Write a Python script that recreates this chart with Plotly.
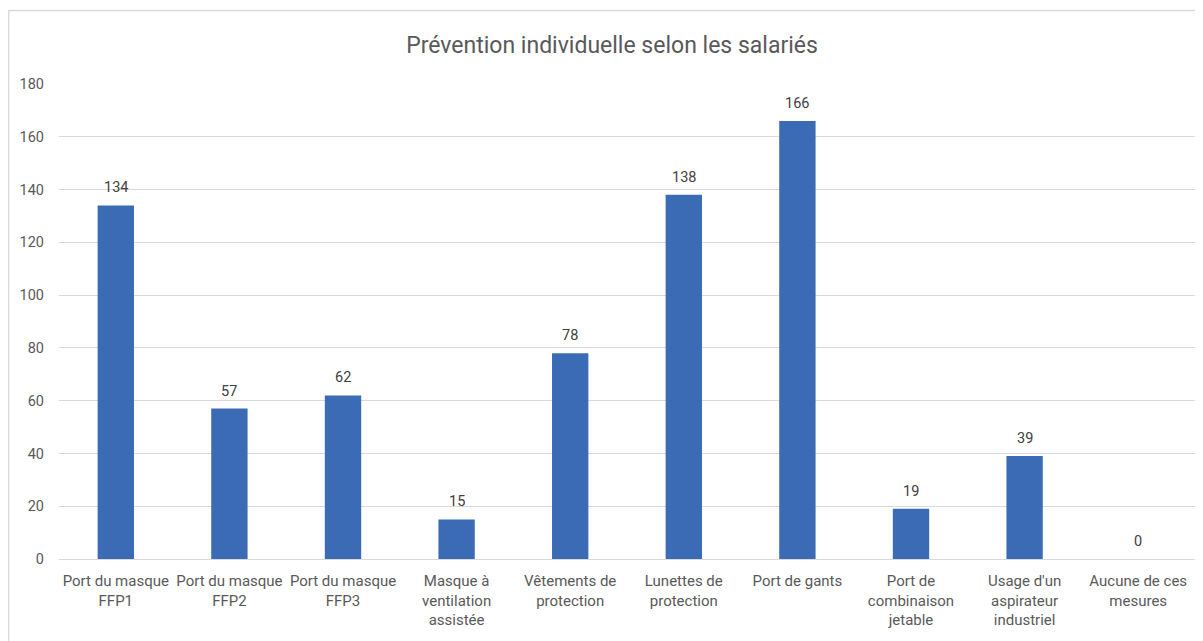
import plotly.graph_objects as go

categories = [
    "Port du masque<br>FFP1",
    "Port du masque<br>FFP2",
    "Port du masque<br>FFP3",
    "Masque à<br>ventilation<br>assistée",
    "Vêtements de<br>protection",
    "Lunettes de<br>protection",
    "Port de gants",
    "Port de<br>combinaison<br>jetable",
    "Usage d'un<br>aspirateur<br>industriel",
    "Aucune de ces<br>mesures",
]
values = [134, 57, 62, 15, 78, 138, 166, 19, 39, 0]
y_ticks = [0, 20, 40, 60, 80, 100, 120, 140, 160, 180]

FONT = "Roboto, sans-serif"
W, H = 1203, 641
OFF = 8  # page body offset
ML, MT = 59 - OFF, 84 - OFF
pw, ph = 1136, 475
MR, MB = W - ML - pw, H - MT - ph

fig = go.Figure()
fig.add_trace(go.Bar(
    x=list(range(len(categories))),
    y=values,
    marker=dict(color="#3C6BB6", line=dict(width=0)),
    width=0.32,
    hoverinfo="skip",
))

for i, v in enumerate(values):
    fig.add_annotation(
        x=i, y=v, text=str(v), showarrow=False,
        yanchor="bottom", yshift=7,
        font=dict(family=FONT, size=14.5, color="#404040"),
    )

fig.add_shape(
    type="rect", xref="paper", yref="paper",
    x0=(0.7 - ML) / pw, x1=(W + 20 - ML) / pw,
    y0=-(H + 20 - (MT + ph)) / ph, y1=(MT + ph - 2.5) / ph,
    line=dict(color="#D9D9D9", width=1.3), fillcolor="rgba(0,0,0,0)",
    layer="below",
)

fig.update_layout(
    width=W, height=H,
    margin=dict(l=ML, r=MR, t=MT, b=MB, pad=0, autoexpand=False),
    paper_bgcolor="white", plot_bgcolor="white",
    showlegend=False,
    title=dict(
        text="Prévention individuelle selon les salariés",
        x=(612 - OFF) / W, xref="container", xanchor="center",
        y=1 - (45 - OFF) / H, yref="container", yanchor="middle",
        font=dict(family=FONT, size=23, color="#595959"),
    ),
    xaxis=dict(
        tickmode="array", tickvals=list(range(len(categories))), ticktext=categories,
        range=[-0.5, len(categories) - 0.5],
        showgrid=False, zeroline=False, showline=False, ticks="",
        tickangle=0, automargin=False,
        tickfont=dict(family=FONT, size=15, color="#595959"),
        ticklabelstandoff=11,
    ),
    yaxis=dict(
        range=[0, 180], tickmode="array", tickvals=y_ticks,
        showgrid=True, gridcolor="#D9D9D9", gridwidth=1.3,
        zeroline=True, zerolinecolor="#D9D9D9", zerolinewidth=1.3,
        showline=False, ticks="", automargin=False,
        tickfont=dict(family=FONT, size=14.5, color="#595959"),
        ticklabelstandoff=14,
    ),
)

fig.write_html("out.html")
